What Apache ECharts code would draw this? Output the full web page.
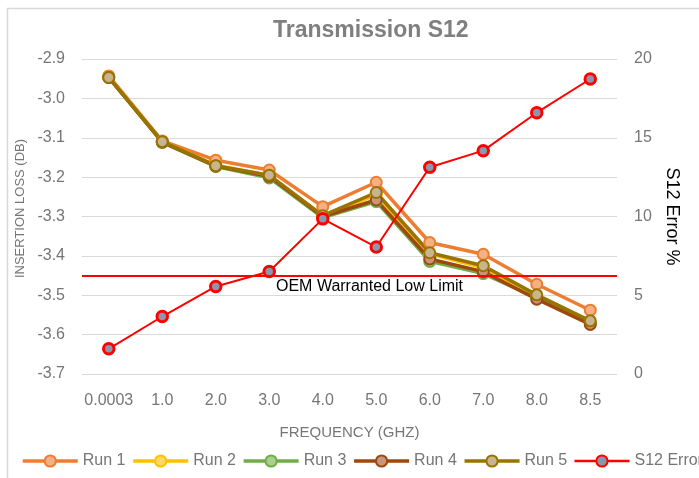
<!DOCTYPE html>
<html>
<head>
<meta charset="utf-8">
<script src="https://cdn.jsdelivr.net/npm/echarts@6/dist/echarts.min.js"></script>
<style>
  html, body { margin: 0; padding: 0; background: #fff; }
  #chart { width: 699px; height: 478px; }
</style>
</head>
<body>
<div id="chart"></div>
<script>
const freq = ['0.0003', '1.0', '2.0', '3.0', '4.0', '5.0', '6.0', '7.0', '8.0', '8.5'];

const run1 = [-2.943, -3.108, -3.157, -3.182, -3.275, -3.213, -3.366, -3.396, -3.472, -3.538];
const run2 = [-2.946, -3.110, -3.170, -3.196, -3.298, -3.245, -3.395, -3.430, -3.502, -3.567];
const run3 = [-2.947, -3.112, -3.173, -3.202, -3.303, -3.262, -3.414, -3.445, -3.507, -3.572];
const run4 = [-2.947, -3.111, -3.172, -3.198, -3.300, -3.258, -3.408, -3.440, -3.510, -3.574];
const run5 = [-2.947, -3.110, -3.171, -3.195, -3.298, -3.239, -3.392, -3.425, -3.499, -3.565];
const s12Error = [1.60, 3.65, 5.56, 6.51, 9.85, 8.06, 13.13, 14.18, 16.59, 18.73];

const lowLimit = -3.453;

const gray = '#767676';
const font = 'Liberation Sans, Arial, sans-serif';

function runSeries(name, data, line, fill) {
    return {
        name: name,
        type: 'line',
        data: data,
        yAxisIndex: 0,
        symbol: 'circle',
        symbolSize: 11,
        lineStyle: { color: line, width: 3.5 },
        itemStyle: { color: fill, borderColor: line, borderWidth: 2 },
        emphasis: { disabled: true }
    };
}

var chartDom = document.getElementById('chart');
var myChart = echarts.init(chartDom);
var option;

option = {
    animation: false,
    textStyle: { fontFamily: font },
    title: {
        text: 'Transmission S12',
        left: 273,
        top: 19,
        padding: 0,
        textStyle: { fontFamily: font, fontSize: 23, fontWeight: 'bold', color: '#7f7f7f' }
    },
    graphic: [{
        type: 'rect',
        shape: { x: 7.5, y: 8.5, width: 720, height: 500 },
        style: { fill: 'none', stroke: '#d9d9d9', lineWidth: 1.5 },
        silent: true
    }],
    grid: { left: 82, right: 82, top: 59, bottom: 104 },
    legend: {
        data: [
            { name: 'Run 1', lineStyle: { width: 3.5 } },
            { name: 'Run 2', lineStyle: { width: 3.5 } },
            { name: 'Run 3', lineStyle: { width: 3.5 } },
            { name: 'Run 4', lineStyle: { width: 3.5 } },
            { name: 'Run 5', lineStyle: { width: 3.5 } },
            { name: 'S12 Error', lineStyle: { width: 2.5 } }
        ],
        left: 21,
        top: 453,
        width: 900,
        padding: 0,
        itemWidth: 55,
        itemHeight: 14,
        itemGap: 6,
        textStyle: { fontFamily: font, fontSize: 16, color: gray }
    },
    xAxis: {
        type: 'category',
        data: freq,
        name: 'FREQUENCY (GHZ)',
        nameLocation: 'middle',
        nameGap: 51,
        nameTextStyle: { fontFamily: font, fontSize: 15, color: gray },
        axisLine: { show: false },
        axisTick: { show: false },
        axisLabel: { interval: 0, margin: 19, fontSize: 16, color: gray, fontFamily: font }
    },
    yAxis: [
        {
            type: 'value',
            min: -3.7,
            max: -2.9,
            interval: 0.1,
            name: 'INSERTION LOSS (DB)',
            nameLocation: 'middle',
            nameRotate: 90,
            nameGap: 46,
            nameTextStyle: { fontFamily: font, fontSize: 13, color: gray, padding: [0, 0, 0, 16] },
            axisLine: { show: false },
            axisTick: { show: false },
            axisLabel: {
                margin: 17,
                fontSize: 16,
                color: gray,
                fontFamily: font,
                formatter: (v) => v.toFixed(1)
            },
            splitLine: { lineStyle: { color: '#d9d9d9', width: 1 } }
        },
        {
            type: 'value',
            min: 0,
            max: 20,
            interval: 5,
            name: 'S12 Error %',
            nameLocation: 'middle',
            nameRotate: -90,
            nameGap: 40,
            nameTextStyle: { fontFamily: font, fontSize: 18, color: '#000' },
            axisLine: { show: false },
            axisTick: { show: false },
            axisLabel: { margin: 17, fontSize: 16, color: gray, fontFamily: font },
            splitLine: { show: false }
        }
    ],
    series: [
        runSeries('Run 1', run1, '#ED7D31', '#F4B183'),
        runSeries('Run 2', run2, '#FFC000', '#FFD966'),
        runSeries('Run 3', run3, '#70AD47', '#A9D18E'),
        runSeries('Run 4', run4, '#9E480E', '#C8957D'),
        runSeries('Run 5', run5, '#997300', '#C8B48E'),
        {
            name: 'OEM Warranted Low Limit',
            type: 'line',
            data: [],
            yAxisIndex: 0,
            markLine: {
                silent: true,
                symbol: ['none', 'none'],
                lineStyle: { color: '#FF0000', width: 2, type: 'solid' },
                label: {
                    show: true,
                    position: 'insideMiddleBottom',
                    distance: 3,
                    padding: [0, 0, 0, 40],
                    formatter: 'OEM Warranted Low Limit',
                    fontFamily: font,
                    fontSize: 16,
                    color: '#000'
                },
                data: [{ yAxis: lowLimit }]
            }
        },
        {
            name: 'S12 Error',
            type: 'line',
            data: s12Error,
            yAxisIndex: 1,
            symbol: 'circle',
            symbolSize: 10.5,
            lineStyle: { color: '#FF0000', width: 2 },
            itemStyle: { color: '#8C97AE', borderColor: '#FF0000', borderWidth: 3 },
            emphasis: { disabled: true }
        }
    ]
};

option && myChart.setOption(option);
</script>
</body>
</html>
